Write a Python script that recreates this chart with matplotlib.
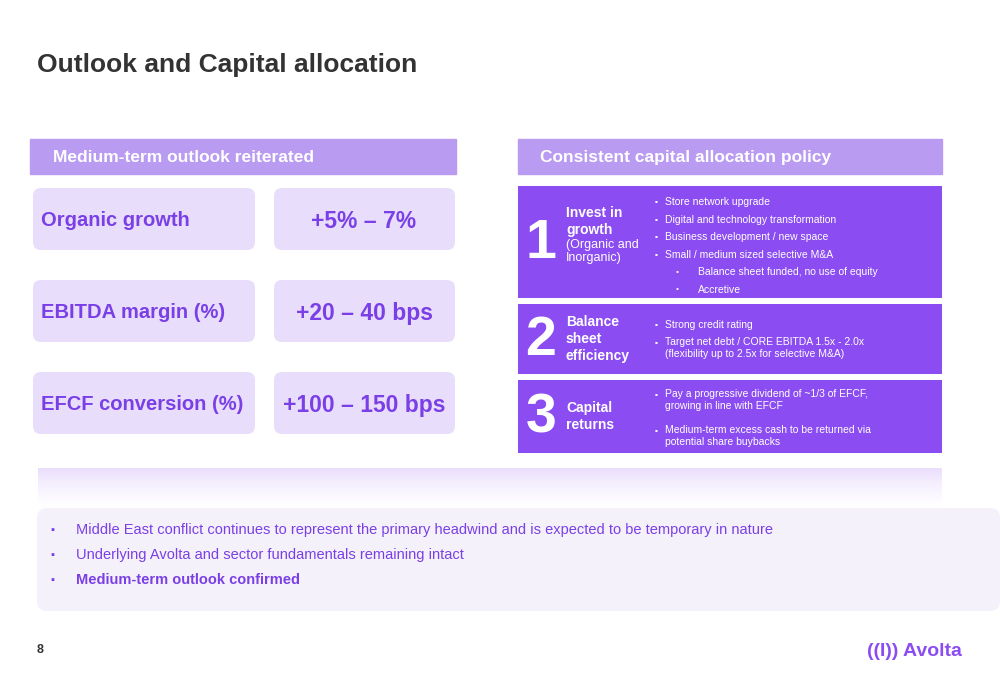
import matplotlib
matplotlib.use("Agg")
import matplotlib.pyplot as plt
from matplotlib.patches import FancyBboxPatch, Rectangle, Polygon

plt.rcParams['font.family'] = ['Liberation Sans', 'DejaVu Sans']

title = "Outlook and Capital allocation"
left_header = "Medium-term outlook reiterated"
right_header = "Consistent capital allocation policy"
metrics = ["Organic growth", "EBITDA margin (%)", "EFCF conversion (%)"]
targets = ["+5% – 7%", "+20 – 40 bps", "+100 – 150 bps"]
pillar_nums = ["1", "2", "3"]
pillar_titles = [["Invest in", "growth"], ["Balance", "sheet", "efficiency"], ["Capital", "returns"]]
pillar_sub = ["(Organic and\nInorganic)", "", ""]
pillar_bullets = [
    [("Store network upgrade", 0), ("Digital and technology transformation", 0),
     ("Business development / new space", 0), ("Small / medium sized selective M&A", 0),
     ("Balance sheet funded, no use of equity", 1), ("Accretive", 1)],
    [("Strong credit rating", 0), ("Target net debt / CORE EBITDA 1.5x - 2.0x\n(flexibility up to 2.5x for selective M&A)", 0)],
    [("Pay a progressive dividend of ~1/3 of EFCF,\ngrowing in line with EFCF", 0),
     ("Medium-term excess cash to be returned via\npotential share buybacks", 0)],
]
bottom_bullets = ["Middle East conflict continues to represent the primary headwind and is expected to be temporary in nature",
                  "Underlying Avolta and sector fundamentals remaining intact",
                  "Medium-term outlook confirmed"]

PURPLE = "#8B4DF2"
HEAD = "#B99BF2"
LAV = "#E8DEFB"
TXT = "#7A3FE6"

fig = plt.figure(figsize=(10, 6.85), dpi=100)
ax = fig.add_axes([0, 0, 1, 1])
ax.set_xlim(0, 1000); ax.set_ylim(685, 0); ax.axis('off')
fig.patch.set_facecolor('white')

ax.text(37, 65, title, fontsize=19, fontweight='bold', color='#333333', va='center')

ax.add_patch(Rectangle((30, 139), 426, 35, color=HEAD))
ax.text(53, 157, left_header, fontsize=12.5, fontweight='bold', color='white', va='center')
rows_y = [188, 280, 372]
for i, y in enumerate(rows_y):
    ax.add_patch(FancyBboxPatch((33, y), 222, 62, boxstyle="round,pad=0,rounding_size=8", color=LAV, lw=0))
    ax.add_patch(FancyBboxPatch((274, y), 181, 62, boxstyle="round,pad=0,rounding_size=8", color=LAV, lw=0))
    ax.text(41, y + 32, metrics[i], fontsize=14.5, fontweight='bold', color=TXT, va='center')
    ax.text(364, y + 33, targets[i], fontsize=16.5, fontweight='bold', color=TXT, va='center', ha='center')

ax.add_patch(Rectangle((518, 139), 424, 35, color=HEAD))
ax.text(540, 157, right_header, fontsize=12.5, fontweight='bold', color='white', va='center')
panels = [(186, 112), (304, 70), (380, 73)]
starts = {0: 202, 1: 325, 2: 395}
for i, (y, h) in enumerate(panels):
    ax.add_patch(Rectangle((518, y), 424, h, color=PURPLE, lw=0))
    cy = y + h / 2
    ax.text(541, cy + 2, pillar_nums[i], fontsize=40, fontweight='bold', color='white', va='center', ha='center')
    tl = pillar_titles[i]
    ty0 = 213 if i == 0 else cy - (len(tl) - 1) * 8.5
    for k, t in enumerate(tl):
        ax.text(566, ty0 + k * 17, t, fontsize=10, fontweight='bold', color='white', va='center')
    if pillar_sub[i]:
        ax.text(566, ty0 + len(tl) * 17 - 8, pillar_sub[i], fontsize=9, color='white', va='top', linespacing=1.15)
    yy = starts[i]
    for text, lvl in pillar_bullets[i]:
        bx = 655 if lvl == 0 else 676
        ax.text(bx, yy, "▪" if lvl == 0 else "•", fontsize=6, color='white', va='center')
        ax.text(665 if lvl == 0 else 698, yy - (6 if '\n' in text else 0), text, fontsize=7.5, color='white',
                va='top' if '\n' in text else 'center', linespacing=1.25)
        yy += (36 if '\n' in text else 17.5)

# shadow band
for k in range(20):
    a = 0.18 * (1 - k / 20) ** 1.5
    ax.add_patch(Polygon([(38, 468 + k * 2), (942, 468 + k * 2), (942, 470 + k * 2), (38, 470 + k * 2)],
                         color=PURPLE, alpha=a, lw=0))

ax.add_patch(FancyBboxPatch((37, 508), 963, 103, boxstyle="round,pad=0,rounding_size=10", color='#F4F1FB', lw=0))
for k, t in enumerate(bottom_bullets):
    y = 530 + k * 25
    ax.text(50, y, "▪", fontsize=8, color=TXT, va='center')
    ax.text(76, y, t, fontsize=10.5, color=TXT, va='center', fontweight='bold' if k == 2 else 'normal')

ax.text(37, 650, "8", fontsize=9, fontweight='bold', color='#333333', va='center')
ax.text(962, 651, "((I)) Avolta", fontsize=14, fontweight='bold', color=PURPLE, va='center', ha='right')

fig.savefig("out.png", dpi=100)
